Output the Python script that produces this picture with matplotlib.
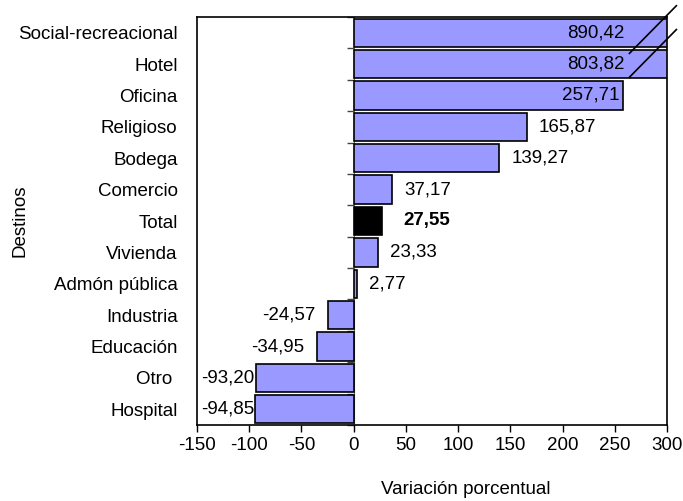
import numpy as np
import matplotlib
matplotlib.use('Agg')
import matplotlib.pyplot as plt

plt.rcParams['font.family'] = ['Liberation Sans', 'DejaVu Sans']
plt.rcParams['axes.unicode_minus'] = False

# datos
destinos = ['Social-recreacional', 'Hotel', 'Oficina', 'Religioso', 'Bodega', 'Comercio',
            'Total', 'Vivienda', 'Admón pública', 'Industria', 'Educación', 'Otro ', 'Hospital']
variacion = [890.42, 803.82, 257.71, 165.87, 139.27, 37.17, 27.55, 23.33, 2.77,
             -24.57, -34.95, -93.20, -94.85]
xticks = [-150, -100, -50, 0, 50, 100, 150, 200, 250, 300]

fs = 13.5
azul = '#9999FF'

fig = plt.figure(figsize=(6.83, 5.01), dpi=100)
ax = fig.add_axes([197 / 683, 1 - 425 / 501, 470 / 683, 408 / 501])

y = np.arange(len(destinos))
colores = ['black' if d == 'Total' else azul for d in destinos]
ax.barh(y, variacion, height=0.9, color=colores, edgecolor='black', linewidth=1.2, zorder=2)

ax.set_xlim(xticks[0], xticks[-1])
ax.set_ylim(len(destinos) - 0.5, -0.5)
ax.set_xticks(xticks)
ax.set_xticklabels([str(t) for t in xticks], fontsize=fs)
ax.set_yticks(y)
ax.set_yticklabels(destinos, fontsize=fs)
ax.tick_params(axis='y', length=0, pad=14)
ax.tick_params(axis='x', length=5, width=1, direction='out', pad=4)
for s in ax.spines.values():
    s.set_linewidth(1.2)

# eje de categorias en x=0
sec = ax.secondary_yaxis(150 / 450)
sec.set_yticks(np.arange(len(destinos) + 1) - 0.5)
sec.set_yticklabels([])
sec.tick_params(length=5, width=1, direction='out', colors='#444444')
sec.spines['left'].set_linewidth(0.8)
sec.spines['left'].set_color('#666666')

ax.set_xlabel('Variación porcentual', fontsize=fs)
ax.set_ylabel('Destinos', fontsize=fs)
ax.xaxis.set_label_coords((466 - 197) / 470, (425 - 490) / 408)
ax.yaxis.set_label_coords((20 - 197) / 470, 0.5)
ax.xaxis.label.set_va('center')
ax.yaxis.label.set_va('center')

# etiquetas de datos
for i, v in enumerate(variacion):
    txt = f'{v:.2f}'.replace('.', ',')
    peso = 'bold' if destinos[i] == 'Total' else 'normal'
    if v > 230:
        ax.annotate(txt, (min(v, 262), i), xytext=(-3, 0), textcoords='offset pixels',
                    ha='right', va='center', fontsize=fs, zorder=3)
    elif v >= 0:
        off = 21 if destinos[i] == 'Total' else 12
        ax.annotate(txt, (v, i), xytext=(off, 0), textcoords='offset pixels',
                    ha='left', va='center', fontsize=fs, fontweight=peso, zorder=3)
    elif v < -80:
        ax.annotate(txt, (xticks[0], i), xytext=(4, 0), textcoords='offset pixels',
                    ha='left', va='center', fontsize=fs, zorder=3)
    else:
        ax.annotate(txt, (v, i), xytext=(-13, 0), textcoords='offset pixels',
                    ha='right', va='center', fontsize=fs, zorder=3)

# marcas de corte
ax.plot([264, 309], [0.66, -0.86], color='black', lw=1.2, clip_on=False, zorder=4)
ax.plot([264, 309], [1.42, -0.10], color='black', lw=1.2, clip_on=False, zorder=4)

fig.savefig('out.png', dpi=100)
